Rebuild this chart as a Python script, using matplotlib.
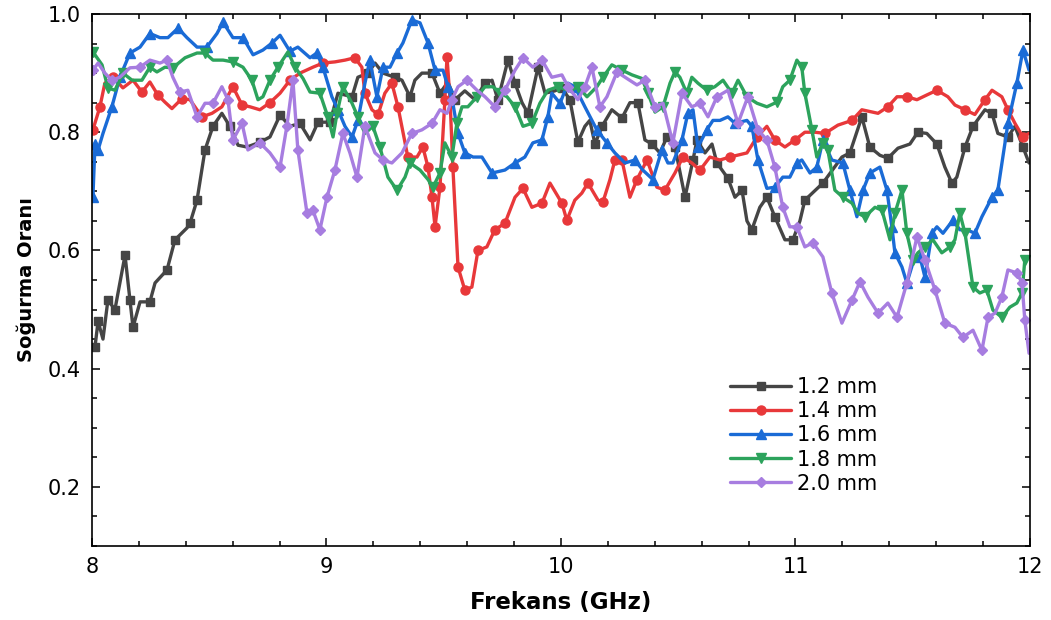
import numpy as np
import matplotlib.pyplot as plt
from matplotlib.ticker import MultipleLocator

# %% data (frequency in GHz, absorption ratio)
f_12 = [8.013, 8.026, 8.047, 8.068, 8.098, 8.141, 8.162, 8.175, 8.205, 8.247, 8.269, 8.320, 8.354, 8.405, 8.418,
        8.448, 8.482, 8.516, 8.554, 8.588, 8.623, 8.661, 8.716, 8.759, 8.802, 8.844, 8.887, 8.930, 8.964, 9.015,
        9.049, 9.109, 9.134, 9.177, 9.207, 9.241, 9.292, 9.322, 9.356, 9.377, 9.407, 9.450, 9.484, 9.518, 9.548,
        9.590, 9.633, 9.676, 9.706, 9.731, 9.774, 9.804, 9.834, 9.859, 9.902, 9.932, 9.974, 10.004, 10.038, 10.072,
        10.102, 10.123, 10.145, 10.175, 10.217, 10.260, 10.294, 10.328, 10.358, 10.388, 10.422, 10.452, 10.486,
        10.529, 10.563, 10.580, 10.614, 10.644, 10.665, 10.712, 10.742, 10.772, 10.793, 10.814, 10.848, 10.878,
        10.912, 10.955, 10.989, 11.019, 11.040, 11.117, 11.198, 11.232, 11.283, 11.317, 11.360, 11.394, 11.437,
        11.488, 11.522, 11.560, 11.603, 11.637, 11.667, 11.688, 11.723, 11.757, 11.808, 11.838, 11.863, 11.906,
        11.936, 11.970, 11.996]
a_12 = [0.437, 0.48, 0.45, 0.516, 0.50, 0.592, 0.516, 0.47, 0.513, 0.513, 0.545, 0.567, 0.618, 0.638, 0.646,
        0.685, 0.77, 0.81, 0.832, 0.81, 0.778, 0.775, 0.783, 0.792, 0.829, 0.81, 0.815, 0.787, 0.817, 0.817,
        0.866, 0.86, 0.893, 0.90, 0.917, 0.90, 0.893, 0.888, 0.86, 0.888, 0.90, 0.90, 0.866, 0.885, 0.855,
        0.87, 0.855, 0.883, 0.888, 0.855, 0.922, 0.883, 0.85, 0.832, 0.91, 0.866, 0.87, 0.875, 0.855, 0.783,
        0.81, 0.82, 0.78, 0.81, 0.838, 0.824, 0.85, 0.85, 0.787, 0.78, 0.765, 0.792, 0.775,
        0.69, 0.753, 0.787, 0.765, 0.78, 0.748, 0.722, 0.69, 0.702, 0.65, 0.635, 0.673, 0.69,
        0.657, 0.618, 0.618, 0.65, 0.685, 0.714, 0.758, 0.765, 0.826, 0.775, 0.761, 0.756, 0.773,
        0.78, 0.80, 0.798, 0.78, 0.741, 0.714, 0.724, 0.775, 0.81, 0.838, 0.832, 0.798, 0.792,
        0.81, 0.775, 0.748]

f_14 = [8.004, 8.034, 8.055, 8.090, 8.132, 8.175, 8.213, 8.247, 8.281, 8.311, 8.341, 8.384, 8.418, 8.469, 8.512,
        8.554, 8.601, 8.640, 8.674, 8.716, 8.759, 8.802, 8.844, 8.887, 8.942, 8.985, 9.036, 9.079, 9.121, 9.151,
        9.164, 9.194, 9.220, 9.249, 9.279, 9.305, 9.347, 9.386, 9.411, 9.433, 9.450, 9.463, 9.484, 9.505, 9.514,
        9.527, 9.539, 9.561, 9.590, 9.620, 9.646, 9.684, 9.718, 9.761, 9.804, 9.838, 9.876, 9.919, 9.953, 10.004,
        10.025, 10.059, 10.089, 10.115, 10.158, 10.179, 10.209, 10.230, 10.260, 10.294, 10.324, 10.367, 10.409,
        10.443, 10.486, 10.520, 10.558, 10.593, 10.635, 10.678, 10.720, 10.793, 10.836, 10.878, 10.912, 10.955,
        10.998, 11.040, 11.083, 11.126, 11.181, 11.241, 11.283, 11.352, 11.394, 11.433, 11.475, 11.518, 11.560,
        11.603, 11.650, 11.680, 11.723, 11.765, 11.808, 11.838, 11.880, 11.906, 11.936, 11.970, 11.996]
a_14 = [0.804, 0.843, 0.883, 0.893, 0.875, 0.888, 0.868, 0.885, 0.863, 0.851, 0.84, 0.857, 0.855, 0.826, 0.832,
        0.843, 0.877, 0.846, 0.843, 0.838, 0.85, 0.866, 0.888, 0.90, 0.91, 0.917, 0.919, 0.922, 0.926, 0.91,
        0.866, 0.838, 0.83, 0.866, 0.883, 0.843, 0.758, 0.758, 0.775, 0.741, 0.69, 0.64, 0.707, 0.855, 0.927,
        0.855, 0.741, 0.572, 0.533, 0.538, 0.60, 0.606, 0.635, 0.646, 0.69, 0.705, 0.673, 0.68, 0.714, 0.68,
        0.651, 0.685, 0.697, 0.714, 0.685, 0.682, 0.72, 0.753, 0.753, 0.69, 0.72, 0.753, 0.707,
        0.702, 0.731, 0.758, 0.748, 0.736, 0.758, 0.753, 0.758, 0.765, 0.792, 0.81, 0.787, 0.775,
        0.787, 0.80, 0.80, 0.798, 0.812, 0.82, 0.838, 0.832, 0.843, 0.86, 0.86, 0.855, 0.863,
        0.871, 0.86, 0.846, 0.838, 0.83, 0.855, 0.871, 0.86, 0.838, 0.815, 0.792, 0.798]

f_16 = [8.004, 8.013, 8.026, 8.047, 8.085, 8.119, 8.162, 8.205, 8.247, 8.290, 8.324, 8.367, 8.405, 8.448, 8.490,
        8.533, 8.559, 8.601, 8.644, 8.687, 8.729, 8.768, 8.802, 8.844, 8.878, 8.930, 8.959, 8.985, 9.023, 9.049,
        9.079, 9.109, 9.134, 9.164, 9.185, 9.215, 9.241, 9.271, 9.301, 9.326, 9.364, 9.399, 9.433, 9.463, 9.497,
        9.518, 9.539, 9.561, 9.590, 9.625, 9.663, 9.706, 9.761, 9.804, 9.846, 9.880, 9.919, 9.944, 9.961, 9.996,
        10.030, 10.059, 10.102, 10.153, 10.196, 10.230, 10.273, 10.315, 10.349, 10.392, 10.430, 10.456, 10.477,
        10.516, 10.541, 10.563, 10.584, 10.622, 10.648, 10.678, 10.712, 10.742, 10.793, 10.814, 10.840, 10.878,
        10.912, 10.946, 10.976, 11.006, 11.027, 11.062, 11.091, 11.117, 11.155, 11.202, 11.232, 11.262, 11.288,
        11.317, 11.360, 11.390, 11.411, 11.424, 11.454, 11.475, 11.501, 11.531, 11.552, 11.582, 11.603, 11.629,
        11.671, 11.701, 11.731, 11.765, 11.795, 11.838, 11.863, 11.906, 11.944, 11.970, 11.996]
a_16 = [0.69, 0.78, 0.77, 0.798, 0.843, 0.893, 0.934, 0.944, 0.967, 0.96, 0.96, 0.976, 0.96, 0.944, 0.944,
        0.967, 0.986, 0.96, 0.96, 0.931, 0.939, 0.951, 0.964, 0.937, 0.944, 0.926, 0.934, 0.91, 0.86, 0.838,
        0.81, 0.792, 0.82, 0.883, 0.922, 0.86, 0.91, 0.91, 0.934, 0.951, 0.99, 0.985, 0.951, 0.905, 0.905,
        0.877, 0.849, 0.798, 0.765, 0.758, 0.758, 0.731, 0.736, 0.748, 0.758, 0.782, 0.787, 0.826, 0.866, 0.849,
        0.883, 0.877, 0.843, 0.804, 0.782, 0.765, 0.748, 0.753, 0.736, 0.72, 0.77, 0.748, 0.748,
        0.787, 0.832, 0.838, 0.775, 0.804, 0.82, 0.82, 0.826, 0.815, 0.82, 0.81, 0.753, 0.705,
        0.707, 0.724, 0.724, 0.748, 0.753, 0.731, 0.741, 0.787, 0.753, 0.748, 0.702, 0.657, 0.702,
        0.731, 0.741, 0.702, 0.64, 0.596, 0.572, 0.545, 0.579, 0.589, 0.555, 0.629, 0.64, 0.629,
        0.651, 0.635, 0.635, 0.629, 0.657, 0.69, 0.702, 0.815, 0.883, 0.939, 0.905]

f_18 = [8.004, 8.043, 8.068, 8.098, 8.132, 8.171, 8.213, 8.247, 8.277, 8.311, 8.345, 8.397, 8.448, 8.482, 8.516,
        8.559, 8.601, 8.644, 8.682, 8.708, 8.729, 8.759, 8.793, 8.836, 8.866, 8.900, 8.930, 8.972, 9.006, 9.028,
        9.045, 9.070, 9.109, 9.134, 9.164, 9.198, 9.228, 9.262, 9.301, 9.335, 9.356, 9.399, 9.433, 9.454, 9.484,
        9.505, 9.535, 9.556, 9.578, 9.603, 9.642, 9.676, 9.710, 9.740, 9.770, 9.804, 9.838, 9.876, 9.910, 9.944,
        9.987, 10.038, 10.072, 10.111, 10.153, 10.179, 10.217, 10.260, 10.303, 10.345, 10.371, 10.401, 10.435,
        10.465, 10.486, 10.507, 10.537, 10.558, 10.584, 10.622, 10.656, 10.691, 10.729, 10.755, 10.793, 10.836,
        10.878, 10.921, 10.946, 10.976, 11.006, 11.027, 11.040, 11.070, 11.091, 11.117, 11.138, 11.168, 11.202,
        11.241, 11.266, 11.296, 11.339, 11.369, 11.403, 11.424, 11.454, 11.475, 11.501, 11.522, 11.552, 11.586,
        11.624, 11.659, 11.680, 11.701, 11.723, 11.757, 11.786, 11.816, 11.842, 11.880, 11.914, 11.944, 11.966,
        11.978, 11.996]
a_18 = [0.936, 0.914, 0.875, 0.871, 0.90, 0.888, 0.888, 0.91, 0.902, 0.91, 0.909, 0.926, 0.934, 0.934, 0.922,
        0.922, 0.919, 0.91, 0.888, 0.855, 0.86, 0.888, 0.91, 0.936, 0.91, 0.891, 0.868, 0.866, 0.826, 0.792,
        0.832, 0.877, 0.849, 0.826, 0.798, 0.81, 0.775, 0.724, 0.702, 0.724, 0.748, 0.736, 0.72, 0.707, 0.731,
        0.782, 0.758, 0.815, 0.843, 0.843, 0.86, 0.877, 0.877, 0.866, 0.86, 0.843, 0.81, 0.815, 0.849, 0.871,
        0.877, 0.87, 0.877, 0.86, 0.877, 0.893, 0.914, 0.905, 0.897, 0.891, 0.866, 0.834, 0.843,
        0.883, 0.902, 0.893, 0.866, 0.893, 0.883, 0.871, 0.877, 0.888, 0.866, 0.888, 0.86, 0.849,
        0.843, 0.851, 0.877, 0.888, 0.922, 0.91, 0.866, 0.804, 0.758, 0.782, 0.77, 0.702, 0.69,
        0.68, 0.663, 0.657, 0.673, 0.668, 0.618, 0.663, 0.702, 0.629, 0.584, 0.596, 0.606, 0.618,
        0.596, 0.606, 0.618, 0.663, 0.629, 0.538, 0.528, 0.533, 0.499, 0.487, 0.504, 0.511, 0.528,
        0.584, 0.589]

f_20 = [8.004, 8.026, 8.055, 8.085, 8.119, 8.162, 8.205, 8.247, 8.290, 8.320, 8.345, 8.375, 8.409, 8.448, 8.482,
        8.516, 8.554, 8.580, 8.601, 8.640, 8.665, 8.716, 8.759, 8.802, 8.831, 8.857, 8.878, 8.917, 8.942, 8.972,
        9.002, 9.036, 9.070, 9.100, 9.130, 9.164, 9.207, 9.241, 9.279, 9.322, 9.364, 9.407, 9.450, 9.484, 9.514,
        9.535, 9.561, 9.599, 9.642, 9.676, 9.718, 9.761, 9.804, 9.838, 9.880, 9.919, 9.961, 10.004, 10.030, 10.072,
        10.102, 10.132, 10.166, 10.196, 10.239, 10.281, 10.324, 10.358, 10.401, 10.435, 10.477, 10.516, 10.558,
        10.593, 10.627, 10.665, 10.712, 10.755, 10.797, 10.840, 10.878, 10.912, 10.946, 10.976, 11.006, 11.040,
        11.074, 11.117, 11.155, 11.198, 11.241, 11.275, 11.309, 11.352, 11.394, 11.433, 11.475, 11.518, 11.552,
        11.595, 11.637, 11.680, 11.714, 11.757, 11.795, 11.821, 11.851, 11.880, 11.906, 11.944, 11.966, 11.978,
        11.996]
a_20 = [0.905, 0.917, 0.90, 0.888, 0.893, 0.909, 0.91, 0.922, 0.917, 0.922, 0.893, 0.868, 0.871, 0.826, 0.849,
        0.849, 0.877, 0.855, 0.787, 0.815, 0.77, 0.782, 0.765, 0.741, 0.81, 0.888, 0.77, 0.663, 0.668, 0.635,
        0.69, 0.736, 0.798, 0.765, 0.724, 0.81, 0.765, 0.753, 0.748, 0.765, 0.798, 0.804, 0.815, 0.838, 0.832,
        0.855, 0.877, 0.888, 0.871, 0.86, 0.843, 0.871, 0.905, 0.926, 0.91, 0.922, 0.893, 0.897, 0.877, 0.855,
        0.877, 0.91, 0.843, 0.86, 0.902, 0.891, 0.88, 0.888, 0.843, 0.849, 0.782, 0.866, 0.843,
        0.849, 0.826, 0.86, 0.871, 0.815, 0.86, 0.804, 0.787, 0.741, 0.673, 0.64, 0.64, 0.606,
        0.613, 0.589, 0.528, 0.477, 0.516, 0.547, 0.521, 0.494, 0.511, 0.487, 0.545, 0.623, 0.584,
        0.533, 0.477, 0.47, 0.453, 0.465, 0.431, 0.487, 0.494, 0.521, 0.567, 0.562, 0.545, 0.482,
        0.426]

labels = ["1.2 mm", "1.4 mm", "1.6 mm", "1.8 mm", "2.0 mm"]
colors = ["#454545", "#e8383a", "#1a6bd6", "#2ca35c", "#a77de0"]
markers = ["s", "o", "^", "v", "D"]
msizes = [6, 6.5, 7, 7, 5.5]

# %% plot
fig = plt.figure(figsize=(10.51, 6.2), dpi=100)
ax = fig.add_axes([0.0875, 0.1194, 0.8925, 0.858])

series = [(f_12, a_12), (f_14, a_14), (f_16, a_16), (f_18, a_18), (f_20, a_20)]
for (f, a), lab, c, m, ms in zip(series, labels, colors, markers, msizes):
    ax.plot(f, a, color=c, lw=2.4, marker=m, ms=ms, markevery=0.03, label=lab,
            solid_joinstyle="round", solid_capstyle="round")

ax.set_xlim(8, 12)
ax.set_ylim(0.1, 1.0)
ax.xaxis.set_major_locator(MultipleLocator(1))
ax.xaxis.set_minor_locator(MultipleLocator(0.2))
ax.yaxis.set_major_locator(MultipleLocator(0.2))
ax.yaxis.set_minor_locator(MultipleLocator(0.05))
ax.tick_params(which="both", direction="in", top=True, right=True, labelsize=15, width=1.1)
ax.tick_params(which="major", length=6)
ax.tick_params(which="minor", length=3.5)
ax.tick_params(axis="x", pad=8)
ax.tick_params(axis="y", pad=8)
for s in ax.spines.values():
    s.set_linewidth(1.2)

ax.set_xlabel("Frekans (GHz)", fontsize=16.5, fontweight="bold", labelpad=10)
ax.set_ylabel("Soğurma Oranı", fontsize=14, fontweight="bold", labelpad=8)

ax.legend(loc="upper left", bbox_to_anchor=(0.665, 0.345), frameon=False, fontsize=15,
          handlelength=2.9, labelspacing=0.2, handletextpad=0.3, borderpad=0.2)

plt.savefig("out.png", dpi=100)
